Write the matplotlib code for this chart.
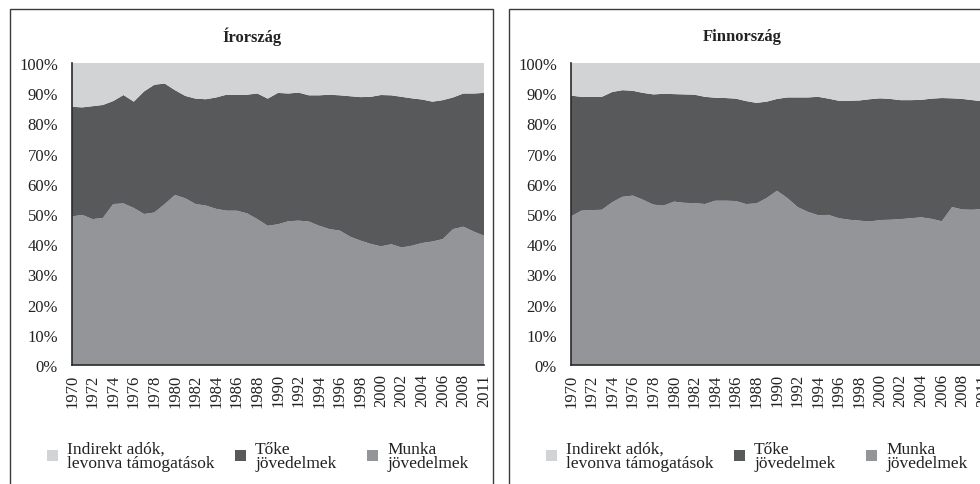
import numpy as np
import matplotlib.pyplot as plt
from matplotlib.patches import Rectangle

plt.rcParams['font.family'] = ['Liberation Serif', 'DejaVu Serif']

years = list(range(1970, 2010)) + [2011]

series_names = ['Munka\njövedelmek', 'Tőke\njövedelmek', 'Indirekt adók,\nlevonva támogatások']
colors = ['#939598', '#58595b', '#d1d3d4']

# Írország - shares in %
irl_munka = [49.2, 49.7, 48.3, 48.7, 53.3, 53.5, 52.0, 50.0, 50.5, 53.3,
             56.3, 55.2, 53.3, 52.8, 51.7, 51.1, 51.1, 50.2, 48.3, 46.1,
             46.6, 47.6, 47.8, 47.5, 46.1, 45.0, 44.5, 42.5, 41.2, 40.1,
             39.3, 40.0, 38.9, 39.5, 40.4, 40.9, 41.7, 45.0, 45.8, 44.2, 42.8]
irl_toke = [36.3, 35.6, 37.4, 37.4, 34.1, 35.9, 35.2, 40.6, 42.3, 39.9,
            34.7, 33.9, 34.9, 35.2, 36.9, 38.4, 38.3, 39.3, 41.6, 42.1,
            43.5, 42.3, 42.4, 41.8, 43.2, 44.5, 44.8, 46.5, 47.5, 48.7,
            50.1, 49.3, 49.9, 48.8, 47.5, 46.3, 46.0, 43.6, 44.1, 45.7, 47.3]
irl_indirekt = [14.5, 14.7, 14.3, 13.9, 12.6, 10.6, 12.8, 9.4, 7.2, 6.8,
                9.0, 10.9, 11.8, 12.0, 11.4, 10.5, 10.6, 10.5, 10.1, 11.8,
                9.9, 10.1, 9.8, 10.7, 10.7, 10.5, 10.7, 11.0, 11.3, 11.2,
                10.6, 10.7, 11.2, 11.7, 12.1, 12.8, 12.3, 11.4, 10.1, 10.1, 9.9]

# Finnország - shares in %
fin_munka = [49.2, 51.1, 51.3, 51.4, 53.9, 55.7, 56.1, 54.7, 53.1, 52.8,
             54.1, 53.7, 53.6, 53.3, 54.4, 54.4, 54.3, 53.3, 53.5, 55.3,
             57.7, 55.3, 52.3, 50.7, 49.6, 49.7, 48.6, 48.1, 47.8, 47.5,
             48.0, 48.1, 48.3, 48.6, 48.9, 48.4, 47.6, 52.3, 51.5, 51.4, 51.7]
fin_toke = [40.0, 37.7, 37.5, 37.4, 36.5, 35.3, 34.7, 35.4, 36.5, 37.0,
            35.6, 35.9, 35.9, 35.5, 34.1, 34.0, 33.9, 34.1, 33.3, 31.9,
            30.4, 33.3, 36.3, 37.9, 39.2, 38.5, 38.9, 39.4, 39.8, 40.5,
            40.3, 40.0, 39.4, 39.1, 38.9, 39.8, 40.8, 36.0, 36.6, 36.3, 35.6]
fin_indirekt = [10.8, 11.2, 11.2, 11.2, 9.6, 9.0, 9.2, 9.9, 10.4, 10.2,
                10.3, 10.4, 10.5, 11.2, 11.5, 11.6, 11.8, 12.6, 13.2, 12.8,
                11.9, 11.4, 11.4, 11.4, 11.2, 11.8, 12.5, 12.5, 12.4, 12.0,
                11.7, 11.9, 12.3, 12.3, 12.2, 11.8, 11.6, 11.7, 11.9, 12.3, 12.7]

W, H = 980, 485
fig = plt.figure(figsize=(W / 100, H / 100), dpi=100)

def px(x, y):
    # pixel (from top-left) -> figure fraction
    return x / W, 1 - y / H

panels = [
    ('Írország', [irl_munka, irl_toke, irl_indirekt], 0, 252),
    ('Finnország', [fin_munka, fin_toke, fin_indirekt], 499, 742),
]

x = np.arange(len(years))

for title, data, off, title_x in panels:
    # panel frame
    fig.add_artist(Rectangle((px(10 + off, 0)[0], -0.1), 483 / W, 1 - 10 / H + 0.1,
                             transform=fig.transFigure, fill=False,
                             ec='#3a3a3a', lw=1.0))
    fig.text(*px(title_x, 37), title, ha='center', va='center',
             fontsize=12, fontweight='bold', color='#222222')

    ax = fig.add_axes([(72 + off) / W, (H - 366) / H, 412 / W, 302 / H])
    ax.stackplot(x, *data, colors=colors, linewidth=0)
    ax.set_xlim(0, len(years) - 1)
    ax.set_ylim(0, 100)
    ax.set_yticks(range(0, 101, 10))
    ax.set_yticklabels([f'{v}%' for v in range(0, 101, 10)])
    ax.set_xticks(x[::2])
    ax.set_xticklabels([str(y) for y in years[::2]], rotation=90)
    ax.tick_params(length=0, labelsize=12, colors='#222222')
    ax.tick_params(axis='y', pad=10)
    ax.tick_params(axis='x', pad=6)
    for s in ['top', 'right']:
        ax.spines[s].set_visible(False)
    for s in ['left', 'bottom']:
        ax.spines[s].set_color('#2a2a2a')
        ax.spines[s].set_linewidth(1.2)

    # legend: indirekt, toke, munka
    leg_x = [47, 235, 367]
    for lx, i in zip(leg_x, [2, 1, 0]):
        fig.add_artist(Rectangle(px(lx + off, 462), 11 / W, 11 / H,
                                 transform=fig.transFigure,
                                 fc=colors[i], ec='none'))
        fig.text(*px(lx + off + 20, 457), series_names[i], ha='left', va='center',
                 fontsize=12.5, linespacing=0.9, color='#222222')

fig.savefig('out.png', dpi=100)
